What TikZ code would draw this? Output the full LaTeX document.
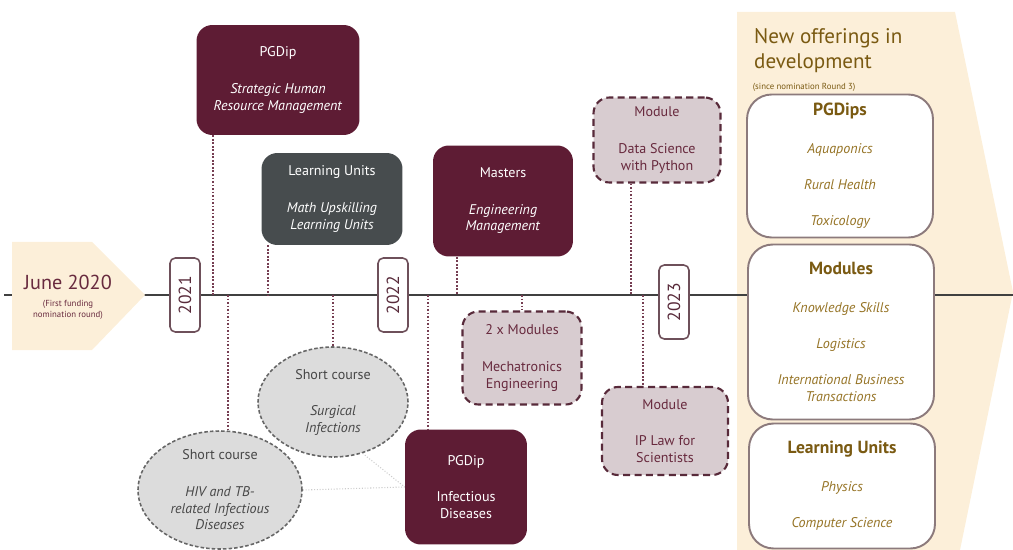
\documentclass[tikz,border=0pt]{standalone}
\usepackage{fontspec}
\setmainfont{PT Sans}
\definecolor{uniMaroon}{RGB}{94,28,52}
\definecolor{uniSlate}{RGB}{71,76,78}
\definecolor{uniBeige}{RGB}{252,239,217}
\definecolor{uniGold}{RGB}{122,90,18}
\definecolor{uniGoldLight}{RGB}{150,116,38}
\definecolor{planFill}{RGB}{216,204,208}
\definecolor{planEdge}{RGB}{88,42,58}
\definecolor{planText}{RGB}{104,42,62}
\definecolor{courseFill}{RGB}{220,220,220}
\definecolor{tagEdge}{RGB}{110,80,90}
\definecolor{offerEdge}{RGB}{140,122,124}
\usepackage{tikz}
\usetikzlibrary{shapes.geometric,positioning,calc}

\begin{document}
\begin{tikzpicture}[x=0.02cm, y=-0.02cm,
    every node/.style={font=\fontsize{8}{9.6}\selectfont, align=center},
    maroonbox/.style={fill=uniMaroon, text=white, rounded corners=9pt, inner sep=0pt},
    slatebox/.style={fill=uniSlate, text=white, rounded corners=9pt, inner sep=0pt},
    planbox/.style={draw=planEdge, fill=planFill, text=planText, line width=1.2pt,
        dash pattern=on 4pt off 2.5pt, rounded corners=9pt, inner sep=0pt},
    coursebox/.style={ellipse, draw=gray!80!black, fill=courseFill, text=black!72,
        line width=0.9pt, dash pattern=on 2pt off 1.2pt, inner sep=0pt},
    yeartag/.style={draw=tagEdge, fill=white, line width=0.9pt, rounded corners=3pt, rotate=90,
        minimum width=1.48cm, minimum height=0.6cm, inner sep=0pt,
        text=planEdge, font=\fontsize{10}{12}\selectfont},
    offerbox/.style={draw=offerEdge, fill=white, line width=1.1pt, rounded corners=14pt,
        minimum width=3.72cm, inner sep=0pt, text=uniGoldLight, font=\fontsize{8}{9.6}\selectfont\itshape},
    link/.style={densely dotted, line width=1pt, color=uniMaroon!85},
    faint/.style={densely dotted, line width=0.6pt, color=gray!40}]
    \useasboundingbox (0,0) rectangle (1013,550);

    % Right arrow panel and timeline
    \fill[uniBeige] (737,12) -- (955,12) -- (1013,292) -- (960,550) -- (737,550) -- cycle;
    \coordinate (tlstart) at (4,295);
    \coordinate (tlend) at (1013,295);
    \draw[line width=1.3pt, black!75] (tlstart) -- (tlend);

    % Start of the timeline
    \fill[uniBeige] (12,242) -- (92,242) -- (145,295) -- (92,350) -- (12,350) -- cycle;
    \node[text=planText, font=\fontsize{5}{6}\selectfont] (start) at (68,297)
        {\fontsize{11.5}{12}\selectfont June 2020\\[4pt]
        \fontsize{5}{6}\selectfont (First funding\\ \fontsize{5}{6}\selectfont nomination round)};

    % Years
    \node[yeartag] (y21) at (185,295) {2021};
    \node[yeartag] (y22) at (393,295) {2022};
    \node[yeartag] (y23) at (674,302) {2023};

    % Offerings above the line
    \node[maroonbox, minimum width=3.26cm, minimum height=2.2cm] (shrm) at (278,80)
        {PGDip\\[11pt] \textit{Strategic Human}\\ \textit{Resource Management}};
    \node[slatebox, minimum width=2.82cm, minimum height=1.84cm] (mathlu) at (332,199)
        {Learning Units\\[11pt] \textit{Math Upskilling}\\ \textit{Learning Units}};
    \node[maroonbox, minimum width=2.8cm, minimum height=2.22cm] (masters) at (503,201)
        {Masters\\[11pt] \textit{Engineering}\\ \textit{Management}};
    \node[planbox, minimum width=2.54cm, minimum height=1.7cm] (datasci) at (657,140)
        {Module\\[11pt] Data Science\\ with Python};

    % Offerings below the line
    \node[coursebox, minimum width=3cm, minimum height=2.2cm] (surg) at (333,402)
        {Short course\\[11pt] \textit{Surgical}\\ \textit{Infections}};
    \node[coursebox, minimum width=3.28cm, minimum height=2.36cm] (hiv) at (220,490)
        {Short course\\[11pt] \textit{HIV and TB-}\\ \textit{related Infectious}\\ \textit{Diseases}};
    \node[maroonbox, minimum width=2.44cm, minimum height=2.3cm] (pgdipid) at (466,487)
        {PGDip\\[11pt] Infectious\\ Diseases};
    \node[planbox, minimum width=2.38cm, minimum height=1.86cm] (mecha) at (522,358)
        {2 x Modules\\[11pt] Mechatronics\\ Engineering};
    \node[planbox, minimum width=2.52cm, minimum height=1.76cm] (iplaw) at (665,431)
        {Module\\[11pt] IP Law for\\ Scientists};

    % Dotted links to the timeline
    \coordinate (c1) at (213,295);
    \coordinate (c2) at (268,295);
    \coordinate (c3) at (457,295);
    \coordinate (c4) at (631,295);
    \coordinate (c5) at (228,295);
    \coordinate (c6) at (333,295);
    \coordinate (c7) at (428,295);
    \coordinate (c8) at (522,295);
    \coordinate (c9) at (643,295);
    \draw[link] (shrm.south -| c1) -- (c1);
    \draw[link] (mathlu.south -| c2) -- (c2);
    \draw[link] (masters.south -| c3) -- (c3);
    \draw[link] (datasci.south -| c4) -- (c4);
    \draw[link] (c5) -- (c5 |- hiv.north);
    \draw[link] (c6) -- (surg.north);
    \draw[link] (c7) -- (c7 |- pgdipid.north);
    \draw[link] (c8) -- (mecha.north);
    \draw[link] (c9) -- (c9 |- iplaw.north);
    \draw[faint] (surg.-60) -- (pgdipid.west);
    \draw[faint] (hiv.east) -- (pgdipid.west);

    % New offerings panel
    \node[anchor=north west, align=left, text=uniGold, font=\fontsize{12}{14.5}\selectfont]
        (newtitle) at (748,22) {New offerings in\\ development};
    \node[anchor=north west, text=uniGold, font=\fontsize{5}{6}\selectfont, inner xsep=0pt]
        (newsub) at ([xshift=2.5pt,yshift=1pt]newtitle.south west) {(since nomination Round 3)};
    \node[offerbox, minimum height=2.86cm] (pgdips) at (840,166)
        {{\upshape\bfseries\fontsize{10}{12}\selectfont\color{uniGold} PGDips}\\[12pt]
        Aquaponics\\[11pt] Rural Health\\[11pt] Toxicology};
    \node[offerbox, minimum height=3.5cm] (modules) at (841,332)
        {{\upshape\bfseries\fontsize{10}{12}\selectfont\color{uniGold} Modules}\\[12pt]
        Knowledge Skills\\[11pt] Logistics\\[11pt] International Business\\ Transactions};
    \node[offerbox, minimum height=2.5cm] (units) at (842,486)
        {{\upshape\bfseries\fontsize{10}{12}\selectfont\color{uniGold} Learning Units}\\[12pt]
        Physics\\[11pt] Computer Science};
\end{tikzpicture}
\end{document}
